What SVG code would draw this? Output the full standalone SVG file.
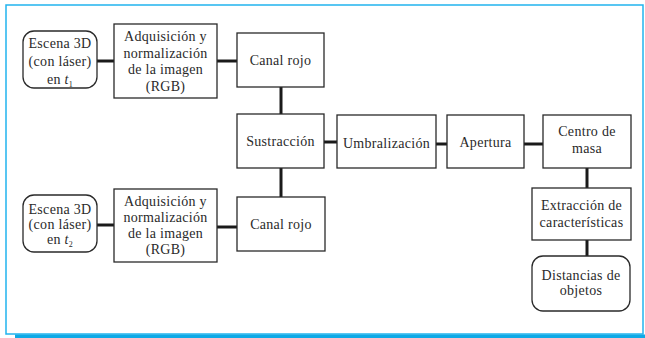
<svg xmlns="http://www.w3.org/2000/svg" width="645" height="338" viewBox="0 0 645 338">
<style>
.box{fill:#fff;stroke:#2a2a2a;stroke-width:1.3}
.t{font-family:"Liberation Serif","Times New Roman",serif;font-size:14px;letter-spacing:0.3px;fill:#2a2a2a;text-anchor:middle}
.c{stroke:#1a1a1a;stroke-width:3;fill:none}
</style>
<rect x="0" y="0" width="645" height="338" fill="#fff"/>
<rect x="6" y="5" width="637" height="329" fill="none" stroke="#22b4ee" stroke-width="1.5"/>
<rect x="15" y="334.5" width="630" height="3.5" fill="#0ea9e6"/>
<g id="connectors">
<line class="c" x1="97" y1="61" x2="114" y2="61"/>
<line class="c" x1="217" y1="61" x2="237" y2="61"/>
<line class="c" x1="281" y1="87" x2="281" y2="114"/>
<line class="c" x1="324" y1="142" x2="337" y2="142"/>
<line class="c" x1="281" y1="168" x2="281" y2="197"/>
<line class="c" x1="97" y1="225" x2="114" y2="225"/>
<line class="c" x1="217" y1="227" x2="237" y2="227"/>
<line class="c" x1="436" y1="144" x2="447" y2="144"/>
<line class="c" x1="524" y1="144" x2="543" y2="144"/>
<line class="c" x1="587" y1="168" x2="587" y2="188"/>
<line class="c" x1="587" y1="240" x2="587" y2="256"/>
</g>
<g id="escena1">
<rect class="box" x="23" y="31" width="74" height="57" rx="11"/>
<text class="t" x="60" y="48">Escena 3D</text>
<text class="t" x="60" y="66">(con láser)</text>
<text class="t" x="60" y="83.5">en <tspan font-style="italic">t</tspan><tspan font-size="8" dy="3">1</tspan></text>
</g>
<g id="adq1">
<rect class="box" x="114" y="24" width="103" height="74"/>
<text class="t" x="165.5" y="41">Adquisición y</text>
<text class="t" x="165.5" y="57.5">normalización</text>
<text class="t" x="165.5" y="74">de la imagen</text>
<text class="t" x="165.5" y="90.5">(RGB)</text>
</g>
<g id="canal1">
<rect class="box" x="237" y="33" width="87" height="54"/>
<text class="t" x="280.5" y="64.5">Canal rojo</text>
</g>
<g id="sustraccion">
<rect class="box" x="237" y="114" width="87" height="54"/>
<text class="t" x="280.5" y="146">Sustracción</text>
</g>
<g id="escena2">
<rect class="box" x="23" y="195" width="74" height="57" rx="11"/>
<text class="t" x="60" y="214">Escena 3D</text>
<text class="t" x="60" y="229">(con láser)</text>
<text class="t" x="60" y="244">en <tspan font-style="italic">t</tspan><tspan font-size="8" dy="3">2</tspan></text>
</g>
<g id="adq2">
<rect class="box" x="114" y="189" width="103" height="73"/>
<text class="t" x="165.5" y="206">Adquisición y</text>
<text class="t" x="165.5" y="221.5">normalización</text>
<text class="t" x="165.5" y="238">de la imagen</text>
<text class="t" x="165.5" y="254">(RGB)</text>
</g>
<g id="canal2">
<rect class="box" x="237" y="197" width="88" height="54"/>
<text class="t" x="281" y="228.5">Canal rojo</text>
</g>
<g id="umbral">
<rect class="box" x="337" y="115" width="99" height="53"/>
<text class="t" x="386.5" y="147.5">Umbralización</text>
</g>
<g id="apertura">
<rect class="box" x="447" y="115" width="77" height="53"/>
<text class="t" x="485.5" y="147">Apertura</text>
</g>
<g id="centro">
<rect class="box" x="543" y="115" width="88" height="53"/>
<text class="t" x="587" y="136">Centro de</text>
<text class="t" x="587" y="152.5">masa</text>
</g>
<g id="extraccion">
<rect class="box" x="532" y="188" width="99" height="52"/>
<text class="t" x="581.5" y="210">Extracción de</text>
<text class="t" x="581.5" y="226.5">características</text>
</g>
<g id="distancias">
<rect class="box" x="532" y="256" width="98" height="55" rx="11"/>
<text class="t" x="581" y="280">Distancias de</text>
<text class="t" x="581" y="295">objetos</text>
</g>
</svg>
